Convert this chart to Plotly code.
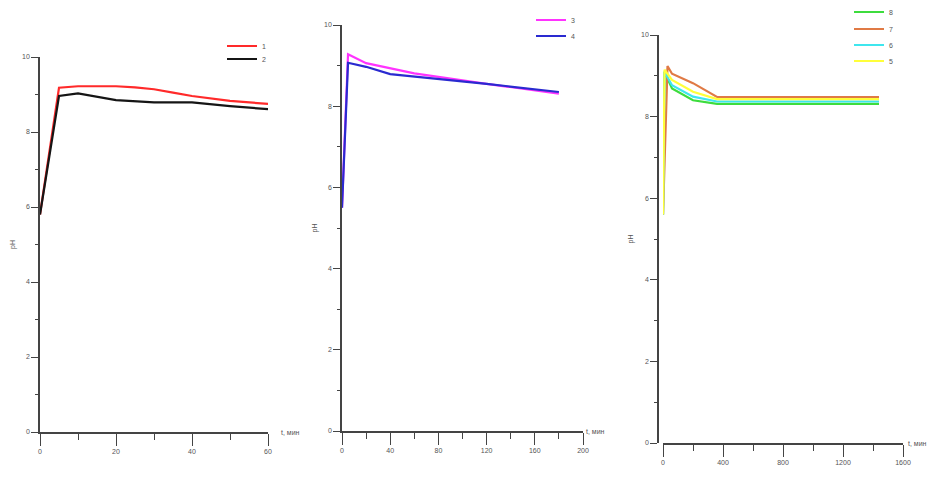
import plotly.graph_objects as go

# ── Données ───────────────────────────────────────────────────────────────────
# (A) courbes 1, 2 : t en minutes, 0–60
t_a1  = [0, 5, 10, 20, 25, 30, 35, 40, 50, 60]
ph_1  = [5.8, 9.18, 9.22, 9.22, 9.19, 9.14, 9.05, 8.96, 8.83, 8.75]
t_a2  = [0, 5, 10, 20, 30, 40, 50, 60]
ph_2  = [5.8, 8.96, 9.03, 8.85, 8.79, 8.79, 8.69, 8.61]

# (B) courbes 3, 4 : t en minutes, 0–180
t_b3  = [0, 5, 20, 40, 60, 120, 180]
ph_3  = [5.5, 9.28, 9.06, 8.93, 8.81, 8.55, 8.31]
t_b4  = [0, 5, 20, 40, 120, 180]
ph_4  = [5.5, 9.07, 8.97, 8.79, 8.55, 8.35]

# (C) courbes 5–8 : t en minutes, 0–1440
t_c   = [0, 10, 60, 200, 360, 1440]
t_c7  = [0, 30, 60, 200, 360, 1440]
ph_8  = [5.6, 9.10, 8.69, 8.40, 8.31, 8.31]
ph_7  = [5.6, 9.24, 9.05, 8.82, 8.48, 8.48]
ph_6  = [5.6, 9.10, 8.77, 8.49, 8.37, 8.37]
ph_5  = [5.6, 9.15, 8.90, 8.61, 8.43, 8.43]

# la page HTML a une marge de 8 px : figure réduite d'autant
PAD = 8
W, H = 941 - 2 * PAD, 493 - 2 * PAD
AXC = "#444444"
TXT = "#555555"
FONT = "Liberation Sans, Arial, sans-serif"


def px(x):
    return (x - PAD) / W


def py(y):
    return (H - (y - PAD)) / H


fig = go.Figure()

# (t, pH, nom, couleur, axes, position de l'entrée de légende en pixels)
series = [
    (t_a1, ph_1, "1", "#ff2a2a", "x", "y", (228, 47)),
    (t_a2, ph_2, "2", "#151515", "x", "y", (228, 60)),
    (t_b3, ph_3, "3", "#ff33ff", "x2", "y2", (537, 21)),
    (t_b4, ph_4, "4", "#2a2ad0", "x2", "y2", (537, 37)),
    (t_c, ph_8, "8", "#3ddc3d", "x3", "y3", (855, 13)),
    (t_c7, ph_7, "7", "#e07a45", "x3", "y3", (855, 30)),
    (t_c, ph_6, "6", "#3fe6ee", "x3", "y3", (855, 46)),
    (t_c, ph_5, "5", "#ffff3a", "x3", "y3", (855, 62)),
]
legends = {}
for i, (t, ph, name, color, xa, ya, (lx, ly)) in enumerate(series):
    lg = "legend" if i == 0 else f"legend{i + 1}"
    fig.add_trace(go.Scatter(
        x=t, y=ph, mode="lines", name=name,
        line=dict(color=color, width=2.2),
        xaxis=xa, yaxis=ya, legend=lg,
    ))
    legends[lg] = dict(
        x=px(lx - 6), y=py(ly - 1), xanchor="left", yanchor="middle",
        bgcolor="rgba(0,0,0,0)", borderwidth=0,
        font=dict(size=7, color=TXT, family=FONT),
    )

xcommon = dict(showgrid=False, zeroline=False, showline=True, linecolor=AXC,
               linewidth=1.5, ticks="outside", ticklen=12, tickcolor=AXC,
               automargin=False,
               tickfont=dict(size=7, color=TXT, family=FONT))
ycommon = dict(showgrid=False, zeroline=False, showline=True, linecolor=AXC,
               linewidth=1.5, ticks="outside", ticklen=7, tickcolor=AXC,
               automargin=False,
               range=[0, 10], tickvals=[0, 2, 4, 6, 8, 10],
               minor=dict(tickvals=[1, 3, 5, 7, 9], ticks="outside",
                          ticklen=3, tickcolor=AXC),
               tickfont=dict(size=7, color=TXT, family=FONT),
               title=dict(text="pH", font=dict(size=7, color=TXT, family=FONT),
                          standoff=6))

fig.update_layout(
    xaxis=dict(xcommon, domain=[px(40), px(268)], range=[0, 60],
               tickvals=[0, 20, 40, 60],
               minor=dict(tickvals=[10, 30, 50], ticks="outside", ticklen=6,
                          tickcolor=AXC),
               anchor="y"),
    yaxis=dict(ycommon, domain=[py(432), py(57)], anchor="x"),
    xaxis2=dict(xcommon, domain=[px(342), px(583)], range=[0, 200],
                tickvals=[0, 40, 80, 120, 160, 200],
                minor=dict(tickvals=[20, 60, 100, 140, 180], ticks="outside",
                           ticklen=6, tickcolor=AXC),
                anchor="y2"),
    yaxis2=dict(ycommon, domain=[py(431), py(25)], anchor="x2"),
    xaxis3=dict(xcommon, domain=[px(663), px(903)], range=[0, 1600],
                tickvals=[0, 400, 800, 1200, 1600],
                minor=dict(tickvals=[200, 600, 1000, 1400], ticks="outside",
                           ticklen=6, tickcolor=AXC),
                anchor="y3"),
    yaxis3=dict(ycommon, domain=[py(443), py(35)], anchor="free",
                position=px(658)),
    **legends,
)

for xa, ya, xd in [("x", "y", 1.15), ("x2", "y2", 1.10), ("x3", "y3", 1.11)]:
    fig.add_annotation(text="t, мин", xref=f"{xa} domain", yref=ya,
                       x=xd, y=0, showarrow=False,
                       font=dict(size=7, color=TXT, family=FONT))

fig.update_layout(
    width=W, height=H,
    margin=dict(l=0, r=0, t=0, b=0, autoexpand=False),
    paper_bgcolor="white", plot_bgcolor="white",
    showlegend=True,
)

fig.write_html("out.html")
